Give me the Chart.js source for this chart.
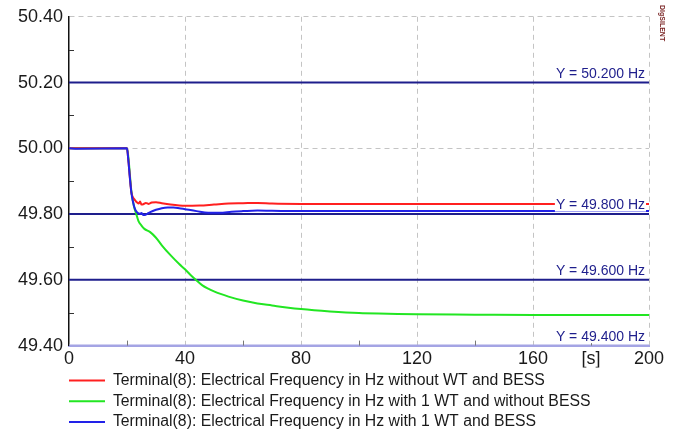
<!DOCTYPE html>
<html>
<head>
<meta charset="utf-8">
<script src="https://cdn.jsdelivr.net/npm/chart.js@4/dist/chart.umd.min.js"></script>
<style>
  body { margin: 0; background: #fff; }
  canvas { display: block; }
</style>
</head>
<body>
<canvas id="freqChart" width="691" height="433"></canvas>
<script>
  // Zeitachse in s, Werte in Hz
  const redTime = [0, 20, 20.4, 21, 21.5, 22, 22.8, 23.5, 24, 24.5, 25, 25.6, 26.5, 27.5, 28.5, 30, 32, 35, 38, 40, 45, 50, 55, 60, 65, 70, 80, 100, 200];
  const redFreq = [50.0, 50.0, 49.97, 49.91, 49.866, 49.852, 49.842, 49.835, 49.832, 49.838, 49.829, 49.83, 49.834, 49.831, 49.835, 49.836, 49.833, 49.829, 49.826, 49.825, 49.826, 49.829, 49.832, 49.833, 49.834, 49.832, 49.831, 49.831, 49.831];

  const greenTime = [0, 20, 20.5, 21.5, 22.5, 23.2, 24, 25, 26, 28, 30, 32, 35, 38, 40, 42, 44, 46, 48, 50, 52, 55, 60, 65, 70, 75, 80, 90, 100, 110, 120, 140, 160, 180, 200];
  const greenFreq = [50.0, 50.0, 49.97, 49.87, 49.82, 49.80, 49.778, 49.765, 49.755, 49.745, 49.728, 49.705, 49.675, 49.648, 49.632, 49.614, 49.598, 49.583, 49.573, 49.565, 49.558, 49.549, 49.537, 49.528, 49.522, 49.516, 49.511, 49.504, 49.499, 49.497, 49.495, 49.494, 49.493, 49.493, 49.493];

  const blueTime = [0, 3, 20, 20.4, 21, 21.5, 22, 22.8, 23.5, 24.5, 25, 25.5, 26.2, 27, 28, 30, 32, 34, 36, 38, 40, 44, 48, 52, 56, 60, 65, 70, 80, 100, 200];
  const blueFreq = [50.0, 49.999, 50.0, 49.97, 49.91, 49.866, 49.84, 49.814, 49.805, 49.801, 49.803, 49.798, 49.797, 49.801, 49.806, 49.813, 49.818, 49.82, 49.82, 49.818, 49.815, 49.809, 49.804, 49.804, 49.807, 49.809, 49.811, 49.81, 49.809, 49.809, 49.809];

  const seriesNames = [
    "Terminal(8): Electrical Frequency in Hz without WT and BESS",
    "Terminal(8): Electrical Frequency in Hz with 1 WT and without BESS",
    "Terminal(8): Electrical Frequency in Hz with 1 WT and BESS"
  ];

  // Grenzwertlinien
  const refLevels = [50.2, 49.8, 49.6, 49.4];
  const refLabels = ["Y = 50.200 Hz", "Y = 49.800 Hz", "Y = 49.600 Hz", "Y = 49.400 Hz"];
  const timeRange = [0, 200];

  const FONT = "'Liberation Sans', Arial, sans-serif";
  const NAVY = "#1e1e8c";

  function toPoints(xs, ys) {
    return xs.map((x, i) => ({ x: x, y: ys[i] }));
  }

  const datasets = [
    { label: seriesNames[0], data: toPoints(redTime, redFreq), borderColor: "#ff2020", order: 1 },
    { label: seriesNames[1], data: toPoints(greenTime, greenFreq), borderColor: "#22e622", order: 2 },
    { label: seriesNames[2], data: toPoints(blueTime, blueFreq), borderColor: "#2222e8", order: 0 }
  ].map(d => Object.assign(d, { borderWidth: 2, pointRadius: 0, cubicInterpolationMode: "monotone", backgroundColor: d.borderColor }));

  refLevels.forEach((lvl, i) => {
    datasets.push({
      label: refLabels[i],
      data: timeRange.map(t => ({ x: t, y: lvl })),
      borderColor: lvl === 49.4 ? "#a4a4e4" : NAVY,
      borderWidth: 2,
      pointRadius: 0,
      order: 3
    });
  });

  // kleine Teilstriche nach innen + Beschriftung der Grenzwerte
  const extras = {
    id: "extras",
    afterLayout(chart) {
      // Legende links am Plotbereich ausrichten
      chart.legend.left = chart.chartArea.left - 5;
    },
    afterDatasetsDraw(chart) {
      const ctx = chart.ctx;
      const area = chart.chartArea;
      const y = chart.scales.y;
      ctx.save();
      ctx.lineWidth = 1;
      ctx.strokeStyle = "#333";
      y.ticks.forEach(t => {
        if (Math.round(t.value * 10) % 2 !== 0) {
          const py = Math.round(y.getPixelForValue(t.value)) + 0.5;
          ctx.beginPath();
          ctx.moveTo(area.left, py);
          ctx.lineTo(area.left + 5, py);
          ctx.stroke();
        }
      });
      ctx.strokeStyle = "#777";
      chart.scales.x.ticks.forEach(t => {
        if (t.value % 40 !== 0) {
          const px = Math.round(chart.scales.x.getPixelForValue(t.value)) + 0.5;
          ctx.beginPath();
          ctx.moveTo(px, area.bottom);
          ctx.lineTo(px, area.bottom - 5);
          ctx.stroke();
        }
      });

      ctx.font = "14px " + FONT;
      ctx.textAlign = "right";
      ctx.textBaseline = "alphabetic";
      refLevels.forEach((lvl, i) => {
        const py = y.getPixelForValue(lvl);
        const w = ctx.measureText(refLabels[i]).width;
        const right = area.right - 4;
        ctx.fillStyle = "#fff";
        ctx.fillRect(right - w - 1, py - 18, w + 2, 15.5);
        ctx.fillStyle = NAVY;
        ctx.fillText(refLabels[i], right, py - 5);
      });
      ctx.restore();
    },
    afterDraw(chart) {
      const ctx = chart.ctx;
      ctx.save();
      // Logo oben rechts
      ctx.translate(662, 5);
      ctx.rotate(Math.PI / 2);
      ctx.font = "bold 7px " + FONT;
      ctx.fillStyle = "#7a2424";
      ctx.textBaseline = "middle";
      ctx.fillText("DIgSILENT", 0, 0);
      ctx.restore();
    }
  };

  new Chart(document.getElementById("freqChart"), {
    type: "line",
    data: { datasets: datasets },
    options: {
      responsive: false,
      animation: false,
      devicePixelRatio: 1,
      layout: { padding: { top: 15, right: 42, left: 0, bottom: -7 } },
      plugins: {
        tooltip: { enabled: false },
        legend: {
          position: "bottom",
          align: "start",
          labels: {
            usePointStyle: true,
            pointStyle: "line",
            pointStyleWidth: 36,
            padding: 5,
            color: "#1a1a1a",
            font: { family: FONT, size: 15.8 },
            filter: item => item.datasetIndex < 3,
            sort: (a, b) => a.datasetIndex - b.datasetIndex
          }
        }
      },
      scales: {
        x: {
          type: "linear",
          min: 0,
          max: 200,
          afterFit: s => { s.height = 22; },
          ticks: {
            stepSize: 20,
            autoSkip: false,
            maxRotation: 0,
            padding: 3,
            color: "#1a1a1a",
            font: { family: FONT, size: 18 },
            callback: v => v === 180 ? "[s]" : (v % 40 === 0 ? String(v) : "")
          },
          grid: {
            drawTicks: false,
            lineWidth: 1,
            color: c => (c.tick && c.tick.value % 40 === 0 && c.tick.value > 0) ? "#c4c4c4" : "transparent"
          },
          border: { display: true, color: "#a4a4e4", width: 2, dash: [5, 4] }
        },
        y: {
          min: 49.4,
          max: 50.4,
          afterFit: s => { s.width = 69; },
          ticks: {
            stepSize: 0.1,
            autoSkip: false,
            padding: 6,
            color: "#1a1a1a",
            font: { family: FONT, size: 18 },
            callback: v => Math.round(v * 10) % 2 === 0 ? v.toFixed(2) : ""
          },
          grid: {
            drawTicks: false,
            lineWidth: 1,
            color: c => {
              if (!c.tick) return "transparent";
              const k = Math.round(c.tick.value * 10);
              return (k % 2 === 0 && k !== 494) ? "#c4c4c4" : "transparent";
            }
          },
          border: { display: true, color: "#111", width: 1.5, dash: [5, 4] }
        }
      }
    },
    plugins: [extras]
  });
</script>
</body>
</html>
